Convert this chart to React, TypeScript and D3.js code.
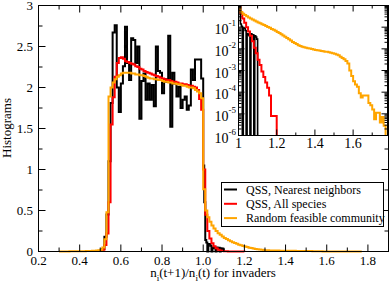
import * as d3 from "d3";

// histogram values, bins of 0.01 unless noted
const blackMain = [
  0.01, 0.03, 0.18, 0.45, 1.1, 1.81, 2.67, 2.76, 2.0, 1.7,
  2.05, 2.26, 2.74, 2.3, 2.09, 2.6, 2.58, 2.3, 2.5, 1.62,
  2.08, 2.17, 1.85, 2.05, 1.85, 2.03, 1.77, 2.5, 2.2, 2.18,
  1.93, 2.1, 2.07, 2.63, 1.52, 2.18, 2.05, 1.89, 2.01, 1.75,
  1.85, 1.89, 1.73, 1.78, 2.22, 2.09, 2.34, 2.34, 2.34, 2.11,
];
// tail beyond 1, bins of 0.005
const blackTail = [
  1.05, 0.6, 0.14, 0.11, 0, 0.09, 0.09, 0.07, 0, 0.05, 0.045, 0.04,
  0, 0.05, 0.045, 0.045, 0, 0.04, 0.035, 0.028,
];

const redMain = [
  0.005, 0.02, 0.08, 0.22, 0.6, 1.55, 1.88, 2.13, 2.3, 2.36,
  2.37, 2.35, 2.32, 2.31, 2.3, 2.29, 2.28, 2.26, 2.25, 2.23,
  2.22, 2.2, 2.19, 2.18, 2.17, 2.16, 2.15, 2.14, 2.13, 2.12,
  2.11, 2.1, 2.09, 2.09, 2.08, 2.07, 2.07, 2.06, 2.05, 2.05,
  2.04, 2.04, 2.03, 2.02, 2.02, 2.01, 2.0, 1.97, 1.86, 1.73,
];
// log10 of the tail
const redTailExp = [
  0, -0.35, -0.6, -0.8, -1.0, -1.2, -1.4, -1.65, -1.95, -2.2,
  -2.5, -2.75, -3.05, -3.3, -3.55, -3.8, -4.15, -5.1, -5.1, -5.1,
];

const orangeLow = [
  0.001, 0.001, 0.001, 0.001, 0.001, 0.002, 0.002, 0.002, 0.002, 0.003,
  0.003, 0.004, 0.004, 0.005, 0.006, 0.007, 0.008, 0.01, 0.012, 0.015,
];
const orangeMain = [
  0.02, 0.05, 0.15, 0.48, 1.89, 2.0, 2.06, 2.1, 2.13, 2.15,
  2.17, 2.18, 2.18, 2.18, 2.18, 2.17, 2.17, 2.16, 2.16, 2.15,
  2.15, 2.14, 2.13, 2.12, 2.11, 2.11, 2.1, 2.1, 2.09, 2.09,
  2.08, 2.07, 2.07, 2.06, 2.06, 2.05, 2.05, 2.04, 2.04, 2.03,
  2.02, 2.02, 2.01, 2.0, 2.0, 1.99, 1.97, 1.95, 1.93, 1.87,
];
const orangeTailExp = [
  -0.12, -0.3, -0.38, -0.44, -0.5, -0.55, -0.6, -0.65, -0.69, -0.74,
  -0.78, -0.82, -0.86, -0.9, -0.95, -0.99, -1.03, -1.08, -1.12, -1.17,
  -1.22, -1.27, -1.33, -1.38, -1.44, -1.5, -1.56, -1.62, -1.68, -1.73,
  -1.78, -1.83, -1.87, -1.9, -1.93, -1.95, -1.97, -1.99, -2.01, -2.03,
  -2.05, -2.06, -2.08, -2.1, -2.11, -2.13, -2.14, -2.16, -2.18, -2.2,
  -2.23, -2.26, -2.3, -2.36, -2.42, -2.48, -2.56, -2.68, -3.0, -3.25,
  -3.5, -3.65, -3.75, -4.05, -4.25, -4.15, -4.15, -4.15, -4.5, -4.6,
  -4.8, -5.25, -4.95, -4.95, -5.4, -5.15, -5.55,
];

const legendLabels = ["QSS, Nearest neighbors", "QSS, All species", "Random feasible community"];
const colors = ["#000000", "#ff0000", "#ffa500"];

const xMajor = [0.2, 0.4, 0.6, 0.8, 1, 1.2, 1.4, 1.6, 1.8];
const yMajor = [0, 0.5, 1, 1.5, 2, 2.5, 3];
const insetXMajor = [1, 1.2, 1.4, 1.6];
const insetExps = [-6, -5, -4, -3, -2, -1, 0];

type Bin = { x0: number; x1: number; v: number };
const toBins = (start: number, w: number, vals: number[]): Bin[] =>
  vals.map((v, i) => ({ x0: start + i * w, x1: start + (i + 1) * w, v }));

const steps = (bins: Bin[]): [number, number][] => {
  const pts: [number, number][] = [];
  bins.forEach((b) => {
    pts.push([b.x0, b.v]);
    pts.push([b.x1, b.v]);
  });
  pts.push([bins[bins.length - 1].x1, 0]);
  return pts;
};

const series = [
  steps([...toBins(0.5, 0.01, blackMain), ...toBins(1.0, 0.005, blackTail)]),
  steps([...toBins(0.5, 0.01, redMain), ...toBins(1.0, 0.01, redTailExp.map((e) => 10 ** e))]),
  steps([
    ...toBins(0.3, 0.01, orangeLow),
    ...toBins(0.5, 0.01, orangeMain),
    ...toBins(1.0, 0.01, orangeTailExp.map((e) => 10 ** e)),
  ]),
];

const font = "'Liberation Serif', 'Times New Roman', serif";

export default function App() {
  const x = d3.scaleLinear().domain([0.2, 1.9]).range([38.5, 388.5]);
  const y = d3.scaleLinear().domain([0, 3]).range([251.5, 5.5]);
  const xi = d3.scaleLinear().domain([1, 1.78]).range([238.5, 387.5]);
  const yi = d3.scaleLog().domain([1e-6, 1]).range([135.5, 5.5]);

  const line = d3.line<[number, number]>().x((d) => x(d[0])).y((d) => y(d[1]));
  const lineI = d3
    .line<[number, number]>()
    .x((d) => xi(d[0]))
    .y((d) => yi(Math.max(d[1], 1e-8)));

  const xMinor = d3.range(0.3, 1.9, 0.2);
  const yMinor = d3.range(0.25, 3, 0.5);
  const insetXMinor = [1.1, 1.3, 1.5, 1.7];
  const insetYMinor: number[] = [];
  insetExps.slice(0, -1).forEach((e) => {
    for (let k = 2; k <= 9; k++) insetYMinor.push(k * 10 ** e);
  });

  const [x0, x1] = x.range();
  const [y0, y1] = y.range();
  const [ix0, ix1] = xi.range();
  const [iy0, iy1] = yi.range();

  return (
    <svg width={390} height={286} style={{ position: "absolute", left: 0, top: 0 }} fontFamily={font}>
      <defs>
        <clipPath id="insetClip">
          <rect x={ix0} y={iy1} width={ix1 - ix0} height={iy0 - iy1} />
        </clipPath>
      </defs>
      <rect width={390} height={286} fill="#fff" />

      {/* main histograms */}
      {series.map((s, i) => (
        <path key={i} d={line(s) || ""} fill="none" stroke={colors[i]} strokeWidth={2} />
      ))}

      {/* main frame + ticks */}
      <rect x={x0} y={y1} width={x1 - x0} height={y0 - y1} fill="none" stroke="#000" />
      <g stroke="#000">
        {xMajor.map((v) => (
          <g key={"xm" + v}>
            <line x1={x(v)} x2={x(v)} y1={y0} y2={y0 - 7} />
            <line x1={x(v)} x2={x(v)} y1={y1} y2={y1 + 7} />
          </g>
        ))}
        {xMinor.map((v) => (
          <g key={"xn" + v}>
            <line x1={x(v)} x2={x(v)} y1={y0} y2={y0 - 4} />
            <line x1={x(v)} x2={x(v)} y1={y1} y2={y1 + 4} />
          </g>
        ))}
        {yMajor.map((v) => (
          <g key={"ym" + v}>
            <line x1={x0} x2={x0 + 7} y1={y(v)} y2={y(v)} />
            <line x1={x1} x2={x1 - 7} y1={y(v)} y2={y(v)} />
          </g>
        ))}
        {yMinor.map((v) => (
          <g key={"yn" + v}>
            <line x1={x0} x2={x0 + 4} y1={y(v)} y2={y(v)} />
            <line x1={x1} x2={x1 - 4} y1={y(v)} y2={y(v)} />
          </g>
        ))}
      </g>
      <g fontSize={13}>
        {xMajor.map((v) => (
          <text key={v} x={x(v)} y={264.5} textAnchor="middle">
            {d3.format(".1f")(v)}
          </text>
        ))}
        {yMajor.map((v) => (
          <text key={v} x={33} y={y(v)} dy="0.35em" textAnchor="end">
            {v === 0 ? "0" : d3.format("~g")(v)}
          </text>
        ))}
      </g>
      <text transform="translate(11,128) rotate(-90)" textAnchor="middle" fontSize={13}>
        Histograms
      </text>
      <text x={213} y={276.5} textAnchor="middle" fontSize={13}>
        n<tspan dy={4} fontSize={9}>i</tspan>
        <tspan dy={-4}>(t+1)/n</tspan>
        <tspan dy={4} fontSize={9}>i</tspan>
        <tspan dy={-4}>(t) for invaders</tspan>
      </text>

      {/* legend */}
      <rect x={221.5} y={182.5} width={162} height={44} fill="#fff" stroke="#000" />
      {legendLabels.map((label, i) => {
        const ly = 189.5 + i * 14.3;
        return (
          <g key={label}>
            <line x1={224} x2={237} y1={ly} y2={ly} stroke={colors[i]} strokeWidth={2} />
            <text x={246} y={ly} dy="0.35em" fontSize={12}>
              {label}
            </text>
          </g>
        );
      })}

      {/* inset */}
      <rect x={ix0} y={iy1} width={ix1 - ix0} height={iy0 - iy1} fill="#fff" />
      <g clipPath="url(#insetClip)">
        {series.map((s, i) => (
          <path key={i} d={lineI(s) || ""} fill="none" stroke={colors[i]} strokeWidth={i === 0 ? 1.6 : 2} />
        ))}
      </g>
      <rect x={ix0} y={iy1} width={ix1 - ix0} height={iy0 - iy1} fill="none" stroke="#000" />
      <g stroke="#000">
        {insetXMajor.map((v) => (
          <g key={"ixm" + v}>
            <line x1={xi(v)} x2={xi(v)} y1={iy0} y2={iy0 - 6} />
            <line x1={xi(v)} x2={xi(v)} y1={iy1} y2={iy1 + 6} />
          </g>
        ))}
        {insetXMinor.map((v) => (
          <g key={"ixn" + v}>
            <line x1={xi(v)} x2={xi(v)} y1={iy0} y2={iy0 - 3} />
            <line x1={xi(v)} x2={xi(v)} y1={iy1} y2={iy1 + 3} />
          </g>
        ))}
        {insetExps.map((e) => (
          <g key={"iym" + e}>
            <line x1={ix0} x2={ix0 + 6} y1={yi(10 ** e)} y2={yi(10 ** e)} />
            <line x1={ix1} x2={ix1 - 6} y1={yi(10 ** e)} y2={yi(10 ** e)} />
          </g>
        ))}
        {insetYMinor.map((v, k) => (
          <g key={"iyn" + k}>
            <line x1={ix0} x2={ix0 + 3} y1={yi(v)} y2={yi(v)} />
            <line x1={ix1} x2={ix1 - 3} y1={yi(v)} y2={yi(v)} />
          </g>
        ))}
      </g>
      <g fontSize={14}>
        {insetXMajor.map((v) => (
          <text key={v} x={xi(v)} y={148} textAnchor="middle">
            {v === 1 ? "1" : d3.format(".1f")(v)}
          </text>
        ))}
        {insetExps.slice(0, -1).map((e) => (
          <g key={e}>
            <text x={228.5} y={yi(10 ** e) + 7} textAnchor="end">
              10
            </text>
            <text x={228.5} y={yi(10 ** e) - 1} fontSize={9}>
              {"-" + Math.abs(e)}
            </text>
          </g>
        ))}
      </g>
    </svg>
  );
}
